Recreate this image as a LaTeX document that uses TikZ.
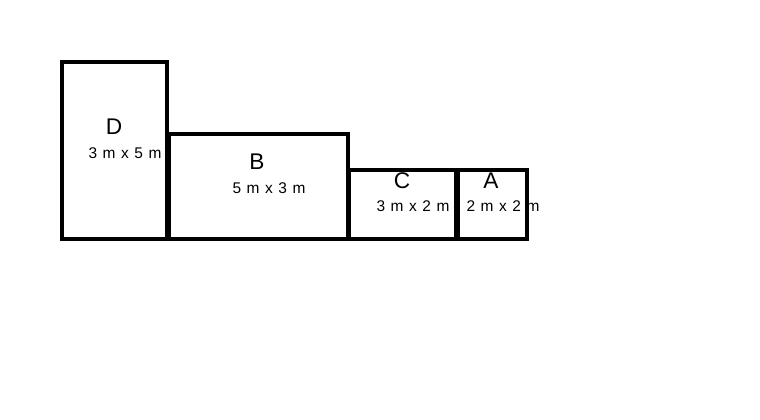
\documentclass[tikz,border=0pt]{standalone}
\usepackage{fontspec}
\setmainfont{Liberation Sans}
\usetikzlibrary{positioning}
\newcommand{\roomsizefont}{\fontsize{11.6}{13}\selectfont\spaceskip=0.36em\relax}

\begin{document}
\begin{tikzpicture}[
        x=0.75pt, y=-0.75pt,
        room/.style={draw=black, line width=2.3pt},
        roomname/.style={font=\fontsize{17}{19}\selectfont, inner sep=0pt},
        roomsize/.style={font=\roomsizefont, inner sep=0pt}
    ]
        \useasboundingbox (0,0) rectangle (760,420);

        % rooms
        \draw[room] (62,62) rectangle (167,239);
        \draw[room] (169,134) rectangle (348,239);
        \draw[room] (349,170) rectangle (456,239);
        \draw[room] (458,170) rectangle (527,239);

        % labels
        \node[roomname] (d) at (114,127) {D};
        \node[roomsize] (dsize) at (125,153) {3 m x 5 m};
        \node[roomname] (b) at (257,162) {B};
        \node[roomsize] (bsize) at (269,188) {5 m x 3 m};
        \node[roomname] (c) at (402,181) {C};
        \node[roomsize] (csize) at (413,206) {3 m x 2 m};
        \node[roomname] (a) at (491,181) {A};
        \node[roomsize] (asize) at (503,206) {2 m x 2 m};
    \end{tikzpicture}
\end{document}
